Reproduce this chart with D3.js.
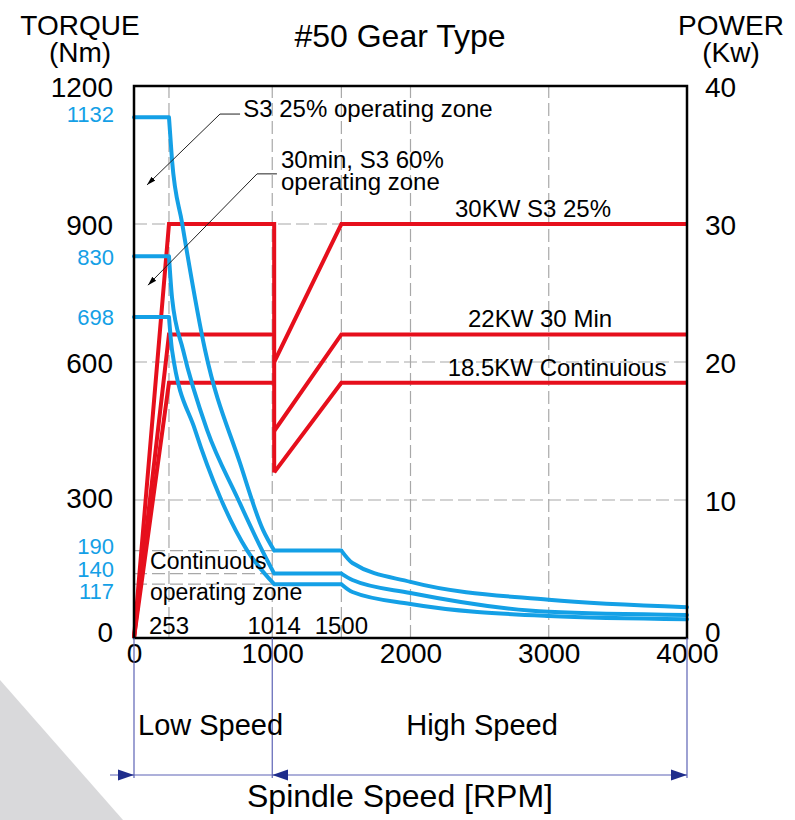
<!DOCTYPE html>
<html>
<head>
<meta charset="utf-8">
<script src="https://cdn.jsdelivr.net/npm/d3@7"></script>
<style>
  body { margin: 0; background: #fff; }
  svg { display: block; font-family: "Liberation Sans", Arial, sans-serif; }
</style>
</head>
<body>
<svg id="chart" width="795" height="820"></svg>
<script>
// torque curves [rpm, Nm]
const torqueS3 = [[0,1132],[253,1132],[275,1039],[348,902],[514,626],[767,380],[933,235],[1014,190],
                  [1500,190],[1580,163],[2000,122],[3000,83],[4000,67]];
const torque30 = [[0,830],[253,830],[275,740],[355,626],[529,452],[746,306],[926,191],[1014,140],
                  [1500,140],[1580,126],[2000,98],[3000,57],[4000,50]];
const torqueCont = [[0,698],[253,698],[275,626],[442,452],[623,306],[817,191],[1014,117],
                    [1500,117],[1580,100],[2000,74],[3000,48],[4000,41]];

// power lines [rpm, kW]
const powerLow30 = [[0,0],[253,30],[1014,30],[1014,12]];
const powerLow22 = [[0,0],[253,22],[1014,22]];
const powerLow185 = [[0,0],[253,18.5],[1014,18.5]];
const powerHigh30 = [[1014,20],[1500,30],[4000,30]];
const powerHigh22 = [[1014,15],[1500,22],[4000,22]];
const powerHigh185 = [[1014,12],[1500,18.5],[4000,18.5]];

const powerLabels = [[2886,30,'30KW S3 25%'],[2937,22,'22KW 30 Min'],[3060,18.5,'18.5KW Continuious']];

const torqueTicks = [0,300,600,900,1200];
const torqueMarks = [1132,830,698,190,140,117];
const powerTicks = [0,10,20,30,40];
const rpmTicks = [0,1000,2000,3000,4000];
const rpmMarks = [253,1014,1500];
const gridRpm = [253,1000,1500,2000,3000];
const gridTorque = [300,600,900];
const gridTorqueShort = [117,140,190];
const cornerRpm = [253,1014,1500];   // sharp corners in torque curves

const BLUE = '#14a0e6', RED = '#e60f1c', NAVY = '#1f2d8c';

const svg = d3.select('#chart');
const x = d3.scaleLinear().domain([0,4000]).range([134,687]);
const yT = d3.scaleLinear().domain([0,1200]).range([638,86]);
const yP = d3.scaleLinear().domain([0,40]).range([638,86]);

// gray corner triangle
svg.append('polygon').attr('points','0,680 123,820 0,820').attr('fill','#d9d9db');

// grid
const grid = svg.append('g').attr('stroke','#a8a8a8').attr('stroke-width',1.2).attr('stroke-dasharray','13,5');
grid.selectAll('.gx').data(gridRpm).join('line')
  .attr('x1',d=>x(d)).attr('x2',d=>x(d)).attr('y1',yT(0)).attr('y2',yT(1200));
grid.selectAll('.gy').data(gridTorque).join('line')
  .attr('x1',x(0)).attr('x2',x(4000)).attr('y1',d=>yT(d)).attr('y2',d=>yT(d));
grid.selectAll('.gs').data(gridTorqueShort).join('line')
  .attr('x1',x(0)).attr('x2',x(1500)).attr('y1',d=>yT(d)).attr('y2',d=>yT(d));

// power lines
const lineP = d3.line().x(d=>x(d[0])).y(d=>yP(d[1]));
svg.append('g').selectAll('path')
  .data([powerLow185,powerLow22,powerLow30,powerHigh185,powerHigh22,powerHigh30])
  .join('path')
  .attr('d',lineP).attr('fill','none').attr('stroke',RED).attr('stroke-width',4)
  .attr('stroke-linejoin','miter');

// torque curves: smooth between sharp corners
const lineT = d3.line().x(d=>x(d[0])).y(d=>yT(d[1])).curve(d3.curveMonotoneX);
function torquePath(pts) {
  let d = '', start = 0;
  pts.forEach((p,i) => {
    if (i > 0 && (cornerRpm.includes(p[0]) || i === pts.length-1)) {
      d += lineT(pts.slice(start, i+1));
      start = i;
    }
  });
  return d;
}
svg.append('g').selectAll('path')
  .data([torqueS3,torque30,torqueCont])
  .join('path')
  .attr('d',torquePath).attr('fill','none').attr('stroke',BLUE).attr('stroke-width',4)
  .attr('stroke-linecap','round').attr('stroke-linejoin','round');

// frame
svg.append('rect').attr('x',x(0)).attr('y',yT(1200)).attr('width',x(4000)-x(0)).attr('height',yT(0)-yT(1200))
  .attr('fill','none').attr('stroke','#000').attr('stroke-width',2.5);

// axes labels
const fmt = d3.format('d');
const nudge = {0:-7, 1132:-4, 190:-5, 140:-5, 117:6, 300:-3};
const axL = svg.append('g').attr('transform',`translate(${x(0)},0)`)
  .call(d3.axisLeft(yT).tickValues(torqueTicks).tickFormat(fmt).tickSize(0).tickPadding(21));
axL.select('.domain').remove();
axL.selectAll('text').attr('font-size',28).attr('fill','#000').attr('font-family',null)
  .attr('dy',d=>(nudge[d]||0)+10);

const axM = svg.append('g').attr('transform',`translate(${x(0)},0)`)
  .call(d3.axisLeft(yT).tickValues(torqueMarks).tickFormat(fmt).tickSize(0).tickPadding(20));
axM.select('.domain').remove();
axM.selectAll('text').attr('font-size',22).attr('fill',BLUE).attr('font-family',null)
  .attr('dy',d=>(nudge[d]||0)+8);

const axR = svg.append('g').attr('transform',`translate(${x(4000)},0)`)
  .call(d3.axisRight(yP).tickValues(powerTicks).tickFormat(fmt).tickSize(0).tickPadding(18));
axR.select('.domain').remove();
axR.selectAll('text').attr('font-size',28).attr('fill','#000').attr('font-family',null)
  .attr('dy',d=>d===0?3:10);

const axB = svg.append('g').attr('transform',`translate(0,${yT(0)})`)
  .call(d3.axisBottom(x).tickValues(rpmTicks).tickFormat(fmt).tickSize(0).tickPadding(5));
axB.select('.domain').remove();
axB.selectAll('text').attr('font-size',28).attr('fill','#000').attr('font-family',null).attr('dy','0.71em');

// rpm marks inside plot
svg.append('g').selectAll('text').data(rpmMarks).join('text')
  .attr('x',d=>x(d)).attr('y',yT(0)-4).attr('text-anchor','middle').attr('font-size',24)
  .text(d=>d);

// power labels
svg.append('g').selectAll('text').data(powerLabels).join('text')
  .attr('x',d=>x(d[0])).attr('y',d=>yP(d[1])-7).attr('text-anchor','middle').attr('font-size',24)
  .text(d=>d[2]);

// annotation arrows [rpm, Nm]
const arrows = [
  {pts:[[767,1139],[622,1139],[94,985]], text:['S3 25% operating zone'], at:[790,1133]},
  {pts:[[1034,1009],[890,1009],[101,767]], text:['30min, S3 60%','operating zone'], at:[1063,1022]}
];
const defs = svg.append('defs');
defs.append('marker').attr('id','ah').attr('viewBox','0 0 10 10').attr('refX',10).attr('refY',5)
  .attr('markerWidth',9).attr('markerHeight',9).attr('orient','auto-start-reverse')
  .append('path').attr('d','M0,2 L10,5 L0,8 z').attr('fill','#000');
defs.append('marker').attr('id','bh').attr('viewBox','0 0 10 10').attr('refX',10).attr('refY',5)
  .attr('markerWidth',16).attr('markerHeight',16).attr('markerUnits','userSpaceOnUse').attr('orient','auto-start-reverse')
  .append('path').attr('d','M0,1.5 L10,5 L0,8.5 z').attr('fill',NAVY);

const lineA = d3.line().x(d=>x(d[0])).y(d=>yT(d[1]));
arrows.forEach(a => {
  svg.append('path').attr('d',lineA(a.pts)).attr('fill','none').attr('stroke','#222').attr('stroke-width',1)
    .attr('marker-end','url(#ah)');
  a.text.forEach((t,i) => {
    svg.append('text').attr('x',x(a.at[0])).attr('y',yT(a.at[1])+i*22).attr('font-size',24).text(t);
  });
});

// continuous zone label
svg.append('text').attr('x',x(116)).attr('y',yT(150)).attr('font-size',23).text('Continuous');
svg.append('text').attr('x',x(116)).attr('y',yT(83)).attr('font-size',23).text('operating zone');

// titles
svg.append('text').attr('x',400).attr('y',47).attr('text-anchor','middle').attr('font-size',32).text('#50 Gear Type');
svg.append('text').attr('x',80).attr('y',35).attr('text-anchor','middle').attr('font-size',28).text('TORQUE');
svg.append('text').attr('x',80).attr('y',62).attr('text-anchor','middle').attr('font-size',28).text('(Nm)');
svg.append('text').attr('x',731).attr('y',35).attr('text-anchor','middle').attr('font-size',28).text('POWER');
svg.append('text').attr('x',731).attr('y',62).attr('text-anchor','middle').attr('font-size',28).text('(Kw)');

// speed range bracket
const rangeRpm = [0,1000,4000];
const br = svg.append('g');
br.selectAll('line').data(rangeRpm).join('line')
  .attr('x1',d=>x(d)).attr('x2',d=>x(d)).attr('y1',yT(0)).attr('y2',778)
  .attr('stroke','#5d63b5').attr('stroke-width',1.2);
br.append('line').attr('x1',110).attr('x2',x(4000)).attr('y1',775).attr('y2',775)
  .attr('stroke','#5d63b5').attr('stroke-width',1.2);
// arrowheads: into 0 from left, into 1000 from right, into 4000 from left
[[x(0)-16,x(0)],[x(1000)+16,x(1000)],[x(4000)-16,x(4000)]].forEach(([a,b]) => {
  br.append('path').attr('d',`M${a},775 L${b},775`).attr('stroke',NAVY).attr('stroke-width',0.1)
    .attr('marker-end','url(#bh)');
});

svg.append('text').attr('x',x(0)+4).attr('y',735).attr('font-size',29).text('Low Speed');
svg.append('text').attr('x',482).attr('y',735).attr('text-anchor','middle').attr('font-size',29).text('High Speed');
svg.append('text').attr('x',400).attr('y',807).attr('text-anchor','middle').attr('font-size',32).text('Spindle Speed [RPM]');
</script>
</body>
</html>
